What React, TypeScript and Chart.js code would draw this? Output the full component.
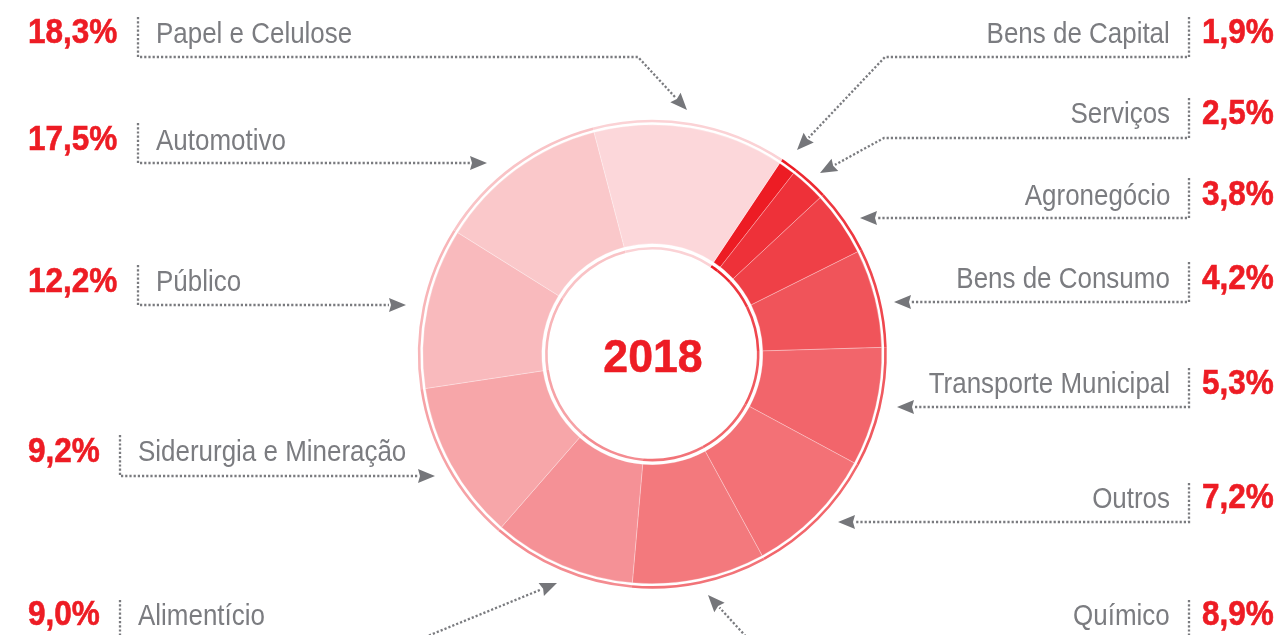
import React, { useEffect, useRef } from "react";
import { Chart, registerables } from "chart.js";

Chart.register(...registerables);

// ---- data ----
const categories = [
  "Bens de Capital",
  "Serviços",
  "Agronegócio",
  "Bens de Consumo",
  "Transporte Municipal",
  "Outros",
  "Químico",
  "Alimentício",
  "Siderurgia e Mineração",
  "Público",
  "Automotivo",
  "Papel e Celulose",
];
const shareLabels = ["1,9%", "2,5%", "3,8%", "4,2%", "5,3%", "7,2%", "8,9%", "9,0%", "9,2%", "12,2%", "17,5%", "18,3%"];
// drawn slice sizes in the infographic (degrees), not proportional to the shares
const sliceDegrees = [4.3, 9, 16.5, 24.8, 30, 33.1, 33.6, 36.1, 40.3, 40.6, 43.3, 48.4];
const centerLabel = "2018";

const segmentColors = [
  "#ed1c24",
  "#ee3139",
  "#ef4047",
  "#f0545a",
  "#f2656b",
  "#f37176",
  "#f3797d",
  "#f59196",
  "#f7a6a9",
  "#f9babd",
  "#fac8ca",
  "#fcd7da",
];
const ringColors = [
  "#ed1c24",
  "#ed2a32",
  "#ee3840",
  "#ef474e",
  "#f05a60",
  "#f2676c",
  "#f27378",
  "#f48c91",
  "#f6a2a6",
  "#f8b5b8",
  "#f9c3c6",
  "#fbd2d5",
];

// ---- layout ----
const W = 1287;
const H = 635;
const RED = "#ed1c24";
const GRAY = "#7b7c80";
const LINE = "#7a7b7f";
const OUTER_R = 234.5;
const INNER_R = 104.6;

type Side = "left" | "right";
const labelLayout: { side: Side; baseline: number; textX: number }[] = [
  { side: "right", baseline: 43, textX: 1170 },
  { side: "right", baseline: 123.5, textX: 1170 },
  { side: "right", baseline: 205, textX: 1170 },
  { side: "right", baseline: 288.5, textX: 1170 },
  { side: "right", baseline: 393.5, textX: 1170 },
  { side: "right", baseline: 508, textX: 1170 },
  { side: "right", baseline: 625, textX: 1170 },
  { side: "left", baseline: 625, textX: 138 },
  { side: "left", baseline: 461.5, textX: 138 },
  { side: "left", baseline: 291.5, textX: 156 },
  { side: "left", baseline: 150, textX: 156 },
  { side: "left", baseline: 43, textX: 156 },
];
const connectors: number[][][] = [
  [[1189, 17], [1189, 57], [885, 57], [797, 150]],
  [[1189, 98], [1189, 138], [884, 138], [820, 173]],
  [[1189, 178], [1189, 218], [860, 218]],
  [[1189, 262], [1189, 302], [894, 302]],
  [[1189, 368], [1189, 407], [897, 407]],
  [[1189, 483], [1189, 522], [838, 522]],
  [[1189, 600], [1189, 665], [772, 665], [708, 595]],
  [[120, 600], [120, 660], [369, 660], [557, 583]],
  [[120, 435], [120, 476], [435, 476]],
  [[138, 265], [138, 305], [406, 305]],
  [[138, 123], [138, 163], [487, 163]],
  [[138, 17], [138, 57], [638, 57], [687, 110]],
];

const connectorPlugin = {
  id: "connectors",
  afterDraw(chart: any) {
    const ctx: CanvasRenderingContext2D = chart.ctx;
    ctx.save();
    for (const path of connectors) {
      const n = path.length;
      const [x1, y1] = path[n - 2];
      const [x2, y2] = path[n - 1];
      const ang = Math.atan2(y2 - y1, x2 - x1);
      const len = 17;
      const hw = 7;
      const bx = x2 - Math.cos(ang) * len;
      const by = y2 - Math.sin(ang) * len;
      ctx.beginPath();
      ctx.moveTo(path[0][0], path[0][1]);
      for (let i = 1; i < n - 1; i++) ctx.lineTo(path[i][0], path[i][1]);
      ctx.lineTo(bx, by);
      ctx.setLineDash([2.2, 2]);
      ctx.lineWidth = 2.3;
      ctx.strokeStyle = LINE;
      ctx.stroke();
      ctx.setLineDash([]);
      ctx.beginPath();
      ctx.moveTo(x2, y2);
      ctx.lineTo(bx - Math.sin(ang) * hw, by + Math.cos(ang) * hw);
      ctx.lineTo(bx + Math.cos(ang) * 2, by + Math.sin(ang) * 2);
      ctx.lineTo(bx + Math.sin(ang) * hw, by - Math.cos(ang) * hw);
      ctx.closePath();
      ctx.fillStyle = "#75767a";
      ctx.fill();
    }
    ctx.restore();
  },
};

const FONT = "'Liberation Sans', Arial, Helvetica, sans-serif";

function Txt(props: {
  x: number;
  baseline: number;
  size: number;
  bold?: boolean;
  color: string;
  scale: number;
  align: "left" | "right" | "center";
  stroke?: number;
  children: React.ReactNode;
}) {
  const { x, baseline, size, bold, color, scale, align, stroke, children } = props;
  const top = baseline - 0.8465 * size;
  const style: React.CSSProperties = {
    position: "absolute",
    top,
    fontSize: size,
    lineHeight: `${size}px`,
    fontFamily: FONT,
    fontWeight: bold ? 700 : 400,
    color,
    whiteSpace: "nowrap",
    transform: `scaleX(${scale})`,
    transformOrigin: align === "center" ? "50% 50%" : align,
  };
  if (stroke) (style as any).WebkitTextStroke = `${stroke}px ${color}`;
  if (align === "left") style.left = x;
  else if (align === "right") style.right = W - x;
  else {
    style.left = x - 200;
    style.width = 400;
    style.textAlign = "center";
  }
  return <div style={style}>{children}</div>;
}

export default function App() {
  const ref = useRef<HTMLCanvasElement>(null);

  useEffect(() => {
    if (!ref.current) return;
    const clear = sliceDegrees.map(() => "rgba(0,0,0,0)");
    const chart = new Chart(ref.current, {
      type: "doughnut",
      data: {
        labels: categories,
        datasets: [
          { data: sliceDegrees, backgroundColor: ringColors, borderWidth: 0, weight: 2.6 } as any,
          { data: sliceDegrees, backgroundColor: clear, borderWidth: 0, weight: 2.4 } as any,
          {
            data: sliceDegrees,
            backgroundColor: segmentColors,
            borderWidth: 0.8,
            borderColor: "rgba(255,255,255,0.35)",
            weight: 119,
          } as any,
          { data: sliceDegrees, backgroundColor: clear, borderWidth: 0, weight: 3.3 } as any,
          { data: sliceDegrees, backgroundColor: ringColors, borderWidth: 0, weight: 2.6 } as any,
        ],
      },
      options: {
        responsive: false,
        animation: false,
        rotation: 33.7,
        radius: OUTER_R,
        cutout: `${(INNER_R / OUTER_R) * 100}%`,
        layout: { padding: { left: 17.6, right: 0, top: 73.4, bottom: 0 } },
        plugins: { legend: { display: false }, tooltip: { enabled: false } },
        events: [],
      } as any,
      plugins: [connectorPlugin],
    });
    return () => chart.destroy();
  }, []);

  return (
    <div
      style={{
        position: "absolute",
        left: 0,
        top: 0,
        width: W,
        height: H,
        overflow: "hidden",
        background: "#fff",
      }}
    >
      <canvas ref={ref} width={W} height={H} style={{ position: "absolute", left: 0, top: 0, width: W, height: H }} />
      {categories.map((c, i) => {
        const L = labelLayout[i];
        if (L.side === "left") {
          return (
            <React.Fragment key={c}>
              <Txt x={28} baseline={L.baseline} size={35} bold stroke={0.6} color={RED} scale={0.9} align="left">
                {shareLabels[i]}
              </Txt>
              <Txt x={L.textX} baseline={L.baseline} size={30} color={GRAY} scale={0.865} align="left">
                {c}
              </Txt>
            </React.Fragment>
          );
        }
        return (
          <React.Fragment key={c}>
            <Txt x={L.textX} baseline={L.baseline} size={30} color={GRAY} scale={0.865} align="right">
              {c}
            </Txt>
            <Txt x={1202} baseline={L.baseline} size={35} bold stroke={0.6} color={RED} scale={0.9} align="left">
              {shareLabels[i]}
            </Txt>
          </React.Fragment>
        );
      })}
      <Txt x={652.5} baseline={371.5} size={46} bold stroke={0.6} color={RED} scale={0.97} align="center">
        {centerLabel}
      </Txt>
    </div>
  );
}
